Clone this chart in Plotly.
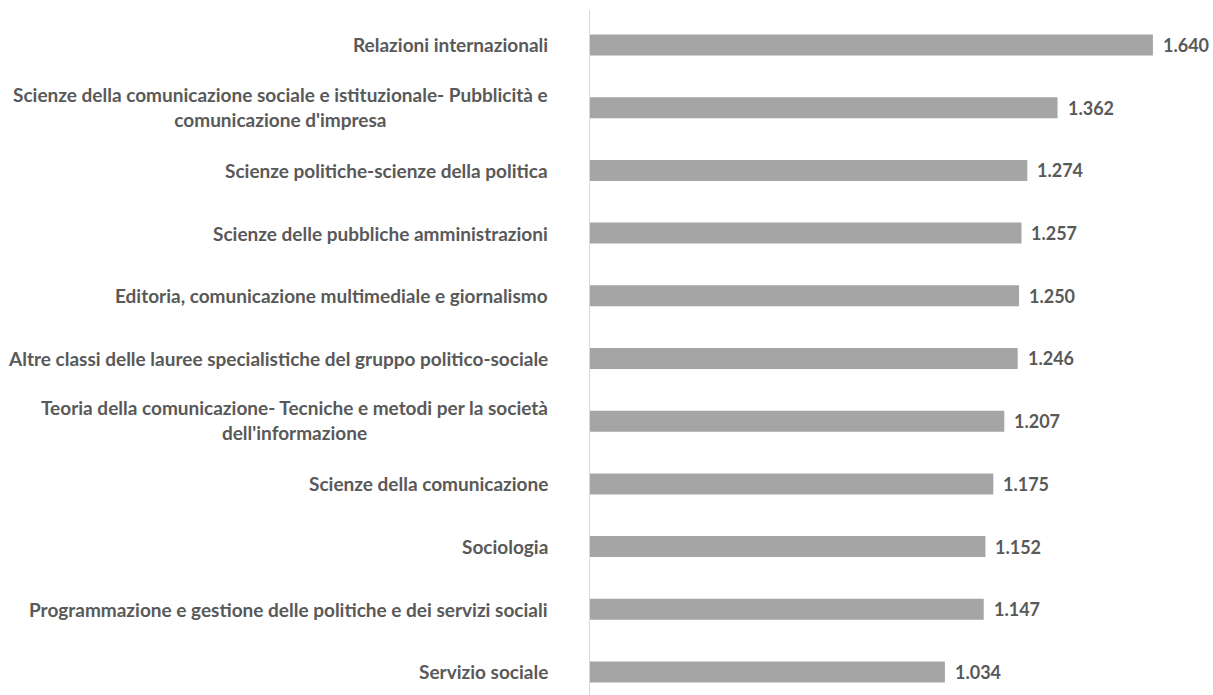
import plotly.graph_objects as go

categories = [
    "Relazioni internazionali",
    "Scienze della comunicazione sociale e istituzionale- Pubblicità e<br>comunicazione d'impresa",
    "Scienze politiche-scienze della politica",
    "Scienze delle pubbliche amministrazioni",
    "Editoria, comunicazione multimediale e giornalismo",
    "Altre classi delle lauree specialistiche del gruppo politico-sociale",
    "Teoria della comunicazione- Tecniche e metodi per la società<br>dell'informazione",
    "Scienze della comunicazione",
    "Sociologia",
    "Programmazione e gestione delle politiche e dei servizi sociali",
    "Servizio sociale",
]
values = [1640, 1362, 1274, 1257, 1250, 1246, 1207, 1175, 1152, 1147, 1034]

FONT = "Lato"
TEXT_COLOR = "#595959"


def fmt(v):
    return f"{v:,}".replace(",", ".")


fig = go.Figure(
    go.Bar(
        x=values,
        y=categories,
        orientation="h",
        width=0.335,
        marker=dict(color="#a5a5a5", line=dict(width=0)),
        hoverinfo="skip",
    )
)

annotations = []
for c, v in zip(categories, values):
    multi = "<br>" in c
    annotations.append(
        dict(
            x=0, xref="paper", xanchor="right", xshift=-40,
            y=c, yref="y", yanchor="middle", yshift=(0 if not multi else 1),
            text=c, showarrow=False, align="center",
            font=dict(family=FONT, size=19, color=TEXT_COLOR, weight="bold"),
        )
    )
    annotations.append(
        dict(
            x=v, xref="x", xanchor="left", xshift=8,
            y=c, yref="y", yanchor="middle",
            text=fmt(v), showarrow=False,
            font=dict(family=FONT, size=18, color=TEXT_COLOR, weight="bold"),
        )
    )

fig.update_layout(
    width=1213, height=695,
    margin=dict(l=590, r=0, t=10, b=0),
    paper_bgcolor="white", plot_bgcolor="white",
    showlegend=False,
    annotations=annotations,
    xaxis=dict(range=[0, 1815], showgrid=False, zeroline=False,
               showticklabels=False, showline=False, fixedrange=True),
    yaxis=dict(type="category", categoryorder="array", categoryarray=categories,
               range=[10.367, -0.558], showgrid=False, zeroline=False,
               showticklabels=False, showline=True, linecolor="#d9d9d9",
               linewidth=1, ticks="", fixedrange=True),
)

fig.write_html(
    "out.html",
    config={"displayModeBar": False},
    post_script="document.body.style.margin='0';document.body.style.overflow='hidden';",
)
